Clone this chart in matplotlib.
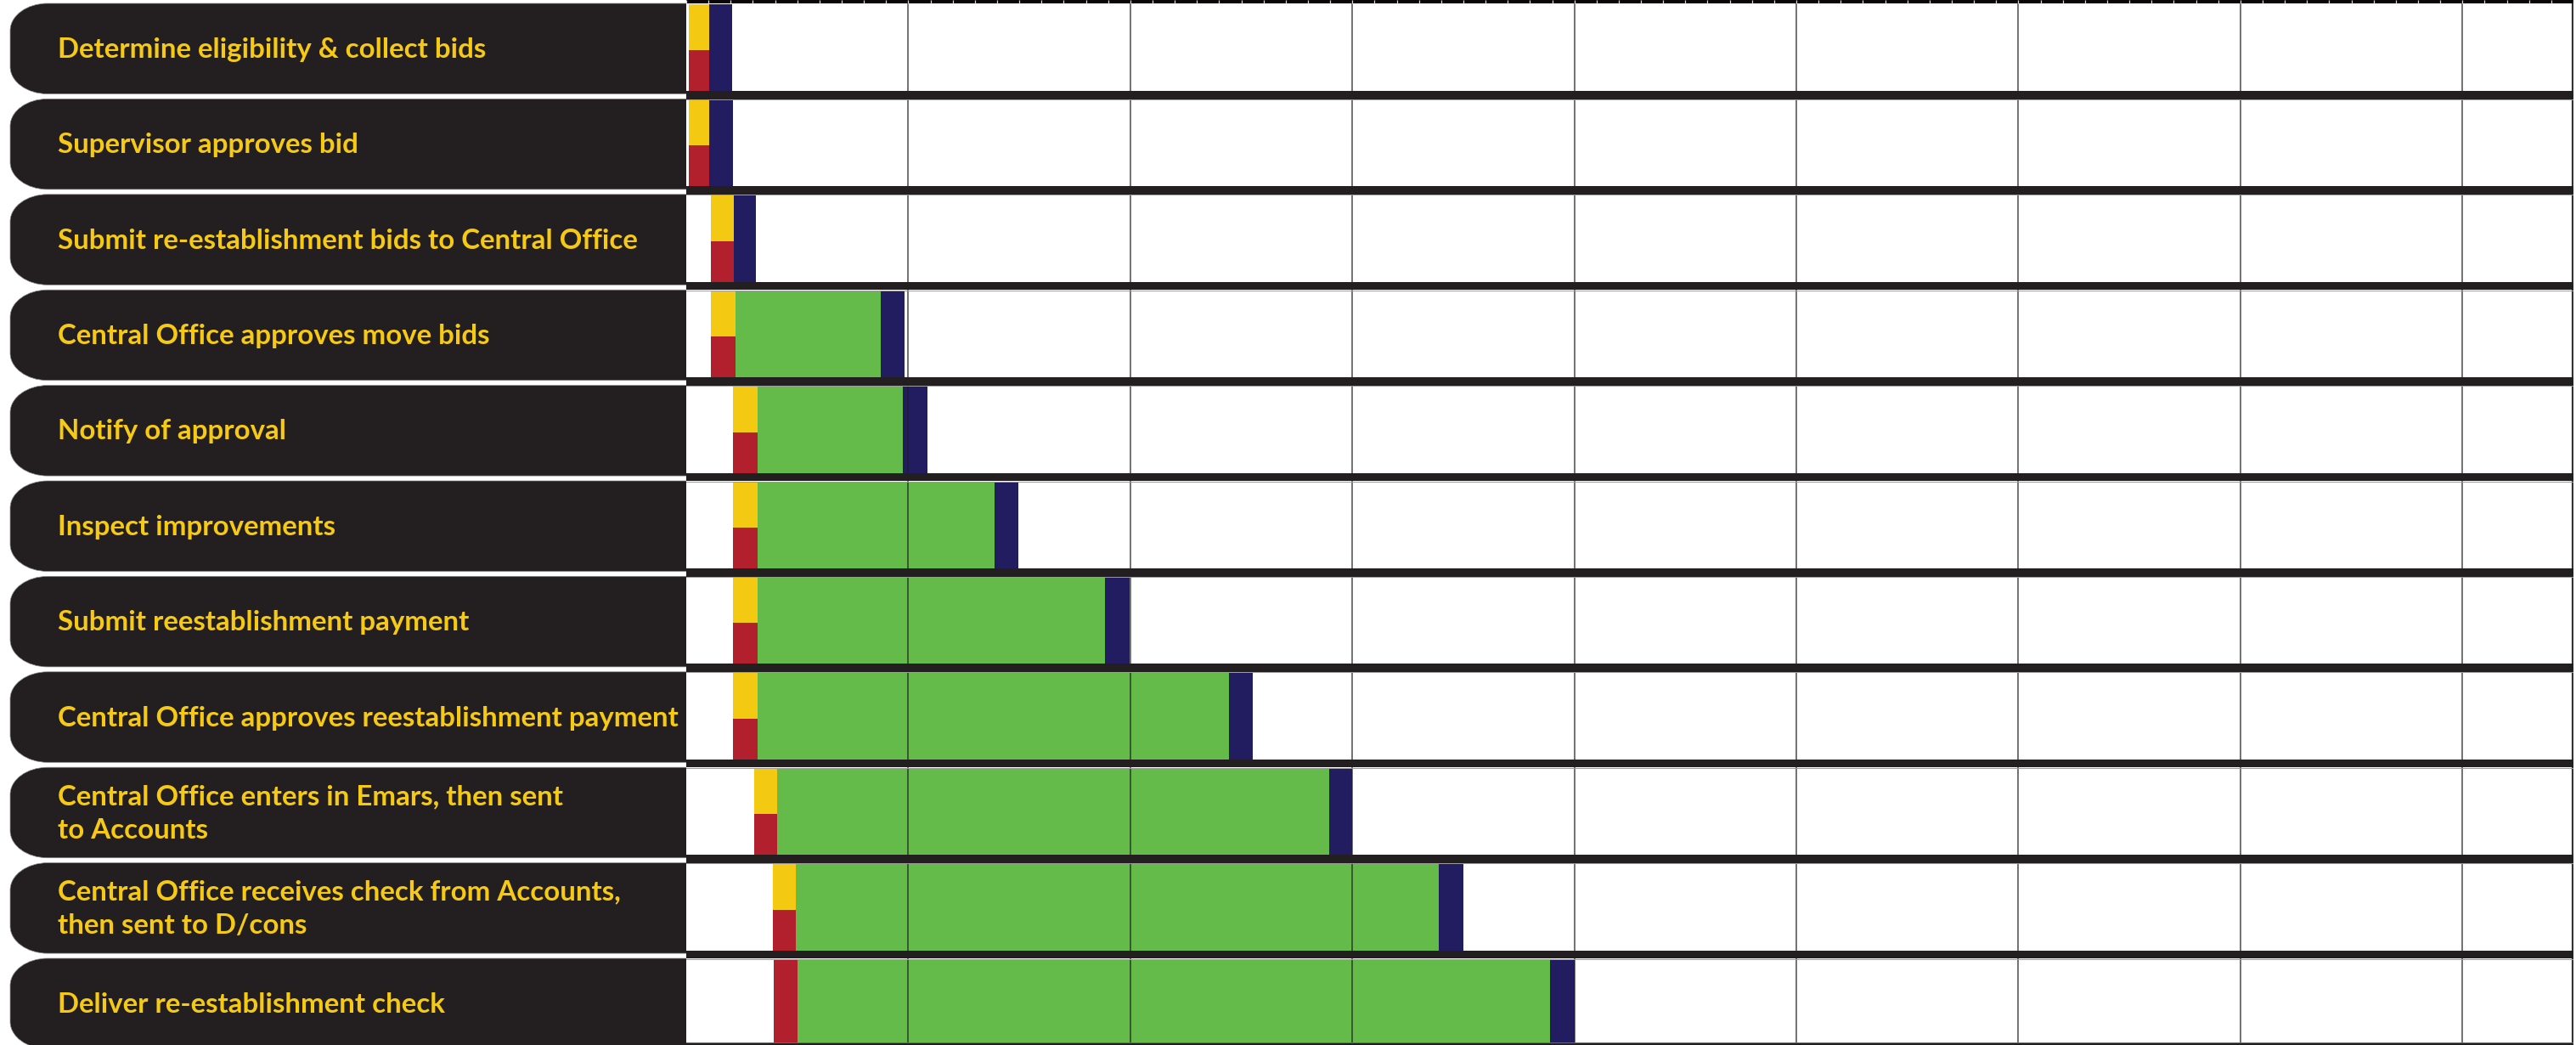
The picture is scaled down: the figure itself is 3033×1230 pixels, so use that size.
import numpy as np
import matplotlib
matplotlib.use("Agg")
import matplotlib.pyplot as plt
from matplotlib.path import Path
from matplotlib.patches import PathPatch

# ---------------- data ----------------
tasks = [
    "Determine eligibility & collect bids",
    "Supervisor approves bid",
    "Submit re-establishment bids to Central Office",
    "Central Office approves move bids",
    "Notify of approval",
    "Inspect improvements",
    "Submit reestablishment payment",
    "Central Office approves reestablishment payment",
    "Central Office enters in Emars, then sent\nto Accounts",
    "Central Office receives check from Accounts,\nthen sent to D/cons",
    "Deliver re-establishment check",
]
# start of the yellow/red segment (days)
seg_start = [0.1, 0.1, 1.1, 1.1, 2.1, 2.1, 2.1, 2.1, 3.05, 3.9, 3.95]
# start of the green segment (= end of yellow/red)
green_start = [1.05, 1.05, 2.15, 2.2, 3.2, 3.2, 3.2, 3.2, 4.1, 4.95, 5.0]
# end of the green segment (= start of navy)
green_end = [1.05, 1.05, 2.15, 8.75, 9.75, 13.9, 18.85, 24.45, 28.95, 33.9, 38.9]
# end of the navy segment
navy_end = [2.05, 2.1, 3.15, 9.85, 10.85, 14.95, 19.95, 25.5, 30.0, 35.0, 40.0]
# whether the first segment is split yellow (top) / red (bottom)
split_first = [True] * 10 + [False]

x_max = 85
major_ticks = list(range(10, 81, 10))
minor_ticks = list(range(0, 86))

# ---------------- style ----------------
W, H = 3033, 1230
DARK = "#231f20"
TXT = "#f5c914"
YEL = "#f4c912"
RED = "#b21f2d"
GRN = "#64bb4a"
NAVY = "#221d61"

fig = plt.figure(figsize=(W / 100, H / 100), dpi=100)
fig.patch.set_facecolor("white")

# background axes in pixel coordinates (label boxes)
bg = fig.add_axes([0, 0, 1, 1])
bg.set_xlim(0, W)
bg.set_ylim(H, 0)
bg.axis("off")

pitch = 112.4
n = len(tasks)
k = 0.5523


def left_round_box(x0, x1, y0, y1, rx, ry):
    verts = [
        (x1, y0), (x0 + rx, y0),
        (x0 + rx * (1 - k), y0), (x0, y0 + ry * (1 - k)), (x0, y0 + ry),
        (x0, y1 - ry),
        (x0, y1 - ry * (1 - k)), (x0 + rx * (1 - k), y1), (x0 + rx, y1),
        (x1, y1), (x1, y0),
    ]
    codes = [Path.MOVETO, Path.LINETO,
             Path.CURVE4, Path.CURVE4, Path.CURVE4,
             Path.LINETO,
             Path.CURVE4, Path.CURVE4, Path.CURVE4,
             Path.LINETO, Path.CLOSEPOLY]
    return Path(verts, codes)


for i, label in enumerate(tasks):
    y0 = 4 + pitch * i
    y1 = y0 + 106.5
    p = left_round_box(12, 812, y0, y1, 44, 32)
    bg.add_patch(PathPatch(p, facecolor=DARK, edgecolor="#8a8a8a", lw=0.5))
    bg.text(68, (y0 + y1) / 2 + 1, label, color=TXT, fontsize=23.8,
            family=["Lato", "DejaVu Sans"], fontweight="bold",
            ha="left", va="center", linespacing=1.45)

# ---------------- plot axes ----------------
ax = fig.add_axes([808 / W, 0, (3030 - 808) / W, 1])
ax.set_xlim(0, x_max)
rows_total = H / pitch
ax.set_ylim(rows_total, 0)
ax.axis("off")
ax.add_patch(plt.Rectangle((0, 0), x_max, rows_total, color="white", zorder=0))

top_off = 5 / pitch
bar_h = 102 / pitch
yel_h = 0.48

for i in range(n):
    top = i + top_off
    w1 = green_start[i] - seg_start[i]
    if split_first[i]:
        ax.barh(top, w1, left=seg_start[i], height=yel_h, align="edge",
                color=YEL, zorder=2, lw=0)
        ax.barh(top + yel_h, w1, left=seg_start[i], height=bar_h - yel_h,
                align="edge", color=RED, zorder=2, lw=0)
    else:
        ax.barh(top, w1, left=seg_start[i], height=bar_h, align="edge",
                color=RED, zorder=2, lw=0)
    gw = green_end[i] - green_start[i]
    if gw > 0:
        ax.barh(top, gw, left=green_start[i], height=bar_h, align="edge",
                color=GRN, zorder=2, lw=0)
    ax.barh(top, navy_end[i] - green_end[i], left=green_end[i], height=bar_h,
            align="edge", color=NAVY, zorder=2.2, lw=0)

# vertical grid lines
ax.vlines(major_ticks, 0, rows_total, color="#1e1e1e", alpha=0.8, lw=1.1,
          zorder=3)
ax.vlines([x_max - 0.02], 0, rows_total, color="#333333", lw=1.6, zorder=3)

# separators between rows
for i in range(n - 1):
    ax.axhspan(i + top_off + bar_h, i + 1 + top_off - 0.008, color=DARK,
               zorder=4, lw=0)
    ax.axhline(i + 1 + top_off - 0.004, color="#9a9a9a", lw=0.7, zorder=4)

# bottom line
ax.axhspan(1227 / pitch, rows_total, color=DARK, zorder=4, lw=0)
ax.axhline(1227 / pitch, color="#777777", lw=0.6, zorder=4)

# top tick strip
ax.axhspan(0, 4 / pitch, color="#0a0506", zorder=5, lw=0)
ax.vlines(minor_ticks, 0, 4 / pitch, color="#d8d8d8", lw=0.9, zorder=6)

fig.savefig("out.png", dpi=100, facecolor="white")
